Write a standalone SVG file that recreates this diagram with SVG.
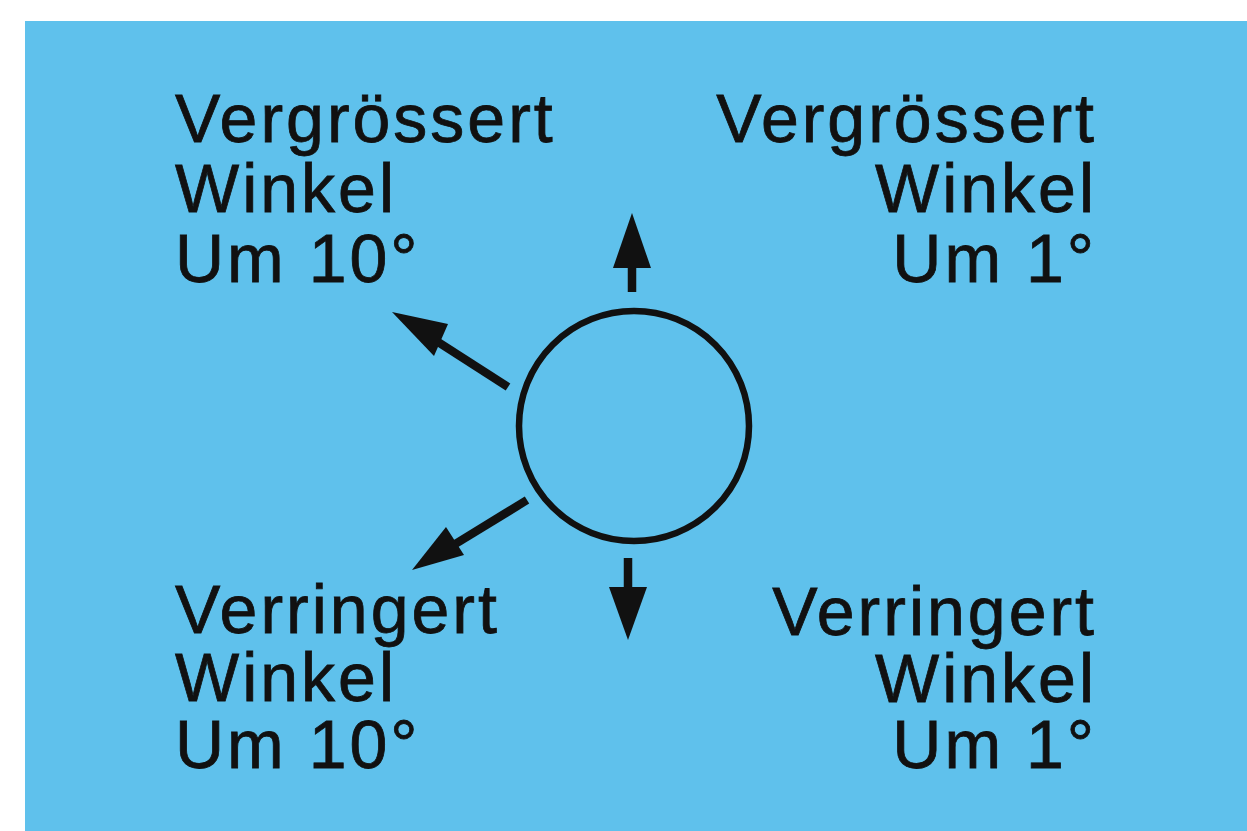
<svg xmlns="http://www.w3.org/2000/svg" width="1247" height="831" viewBox="0 0 1247 831">
<style>
.t{font-family:"Liberation Sans",Arial,sans-serif;font-size:68px;fill:#111;stroke:#111;stroke-width:0.8;letter-spacing:3px}
.r{text-anchor:end}
.sh{stroke:#111;stroke-width:8.5;fill:none}
.hd{fill:#111}
</style>
<rect x="0" y="0" width="1247" height="831" fill="#fff"/>
<rect id="bg" x="25" y="21" width="1222" height="810" fill="#5fc1ec"/>
<g id="circle"><circle cx="634" cy="426" r="115" fill="none" stroke="#111" stroke-width="6.5"/></g>
<g id="connectors">
<line class="sh" x1="632" y1="292" x2="632" y2="262"/>
<polygon class="hd" points="632,213 651,268 613,268"/>
<line class="sh" x1="628" y1="558" x2="628" y2="592"/>
<polygon class="hd" points="628,640 647,587 609,587"/>
<line class="sh" x1="508" y1="387" x2="438" y2="342"/>
<polygon class="hd" points="392,312 448,324 434,356"/>
<line class="sh" x1="527" y1="500" x2="452" y2="546"/>
<polygon class="hd" points="412,570 464,555 446,527"/>
</g>
<g id="tl"><text class="t" x="175" y="142">Vergrössert</text><text class="t" x="175" y="212">Winkel</text><text class="t" x="175" y="282">Um 10°</text></g>
<g id="tr"><text class="t r" x="1097" y="142">Vergrössert</text><text class="t r" x="1097" y="212">Winkel</text><text class="t r" x="1097" y="282">Um 1°</text></g>
<g id="bl"><text class="t" x="175" y="633">Verringert</text><text class="t" x="175" y="701">Winkel</text><text class="t" x="175" y="768">Um 10°</text></g>
<g id="br"><text class="t r" x="1097" y="635">Verringert</text><text class="t r" x="1097" y="702">Winkel</text><text class="t r" x="1097" y="768">Um 1°</text></g>
</svg>
